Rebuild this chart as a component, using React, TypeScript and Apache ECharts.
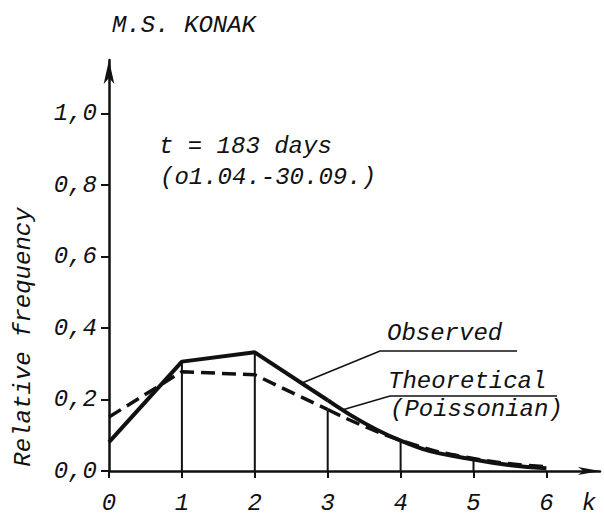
import React, { useEffect, useRef } from "react";
import * as echarts from "echarts";

// ---- data ----
const kValues = [0, 1, 2, 3, 4, 5, 6];
const observed = [0.081, 0.306, 0.332, 0.198, 0.085, 0.032, 0.008];
const theoretical = [0.151, 0.278, 0.269, 0.172, 0.086, 0.035, 0.012];
const stemK = [1, 2, 3, 4, 5];
const stemTops = [0.306, 0.332, 0.17, 0.085, 0.032];
const yTicks = [0, 0.2, 0.4, 0.6, 0.8, 1.0];
const xTicks = [0, 1, 2, 3, 4, 5, 6];

const titleText = "M.S. KONAK";
const periodLines = ["t = 183 days", "(o1.04.-30.09.)"];
const yName = "Relative frequency";
const xName = "k";
const obsLabel = "Observed";
const theoLabels = ["Theoretical", "(Poissonian)"];

const INK = "#111";
const FAMILY = '"Liberation Mono", "DejaVu Sans Mono", monospace';
const FONT = 'italic 24px "Liberation Mono", "DejaVu Sans Mono", monospace';

const pairs = (from: number, to: number, vals: number[]) =>
  kValues.slice(from, to + 1).map((k, i) => [k, vals[from + i]]);

export default function App() {
  const ref = useRef<HTMLDivElement>(null);

  useEffect(() => {
    if (!ref.current) return;
    const chart = echarts.init(ref.current, null, { renderer: "svg" });

    const txt = (text: string, x: number, y: number, extra: any = {}) => ({
      type: "text",
      x,
      y,
      ...extra,
      style: {
        text,
        font: FONT,
        fill: INK,
        textAlign: "left",
        textVerticalAlign: "middle",
        ...(extra.style || {}),
      },
    });

    chart.setOption({
      animation: false,
      backgroundColor: "#ffffff",
      grid: { left: 109, top: 60, right: 4, bottom: 43, containLabel: false },
      xAxis: {
        type: "value",
        min: 0,
        max: 6.735,
        splitLine: { show: false },
        axisLine: {
          show: true,
          onZero: false,
          lineStyle: { color: INK, width: 2.5 },
          symbol: ["none", "arrow"],
          symbolSize: [6, 22],
        },
        axisTick: {
          show: true,
          length: 7,
          inside: false,
          customValues: xTicks,
          lineStyle: { color: INK, width: 2 },
        },
        axisLabel: {
          show: true,
          customValues: xTicks,
          margin: 20,
          color: INK,
          fontFamily: FAMILY,
          fontStyle: "italic",
          fontSize: 24,
          formatter: (v: number) => String(Math.round(v)),
        },
      },
      yAxis: {
        type: "value",
        min: 0,
        max: 1.15,
        splitLine: { show: false },
        axisLine: {
          show: true,
          onZero: false,
          lineStyle: { color: INK, width: 2.5 },
          symbol: ["none", "arrow"],
          symbolSize: [8, 24],
        },
        axisTick: {
          show: true,
          length: 8,
          inside: false,
          customValues: yTicks,
          lineStyle: { color: INK, width: 2 },
        },
        axisLabel: {
          show: true,
          customValues: yTicks,
          margin: 12,
          color: INK,
          fontFamily: FAMILY,
          fontStyle: "italic",
          fontSize: 24,
          formatter: (v: number) => v.toFixed(1).replace(".", ","),
        },
      },
      series: [
        {
          name: "stems",
          type: "bar",
          data: stemK.map((k, i) => [k, stemTops[i]]),
          barWidth: 2,
          itemStyle: { color: INK },
          silent: true,
          z: 1,
        },
        {
          name: "Theoretical",
          type: "line",
          data: pairs(0, 3, theoretical),
          showSymbol: false,
          symbol: "none",
          lineStyle: { color: INK, width: 3.5, type: [14, 7] },
          z: 3,
        },
        {
          name: "Theoretical tail",
          type: "line",
          data: pairs(3, 6, theoretical),
          smooth: 0.5,
          showSymbol: false,
          symbol: "none",
          lineStyle: { color: INK, width: 3.5, type: [14, 7] },
          z: 3,
        },
        {
          name: "Observed",
          type: "line",
          data: pairs(0, 3, observed),
          showSymbol: false,
          symbol: "none",
          lineStyle: { color: INK, width: 4 },
          z: 4,
        },
        {
          name: "Observed tail",
          type: "line",
          data: pairs(3, 6, observed),
          smooth: 0.5,
          showSymbol: false,
          symbol: "none",
          lineStyle: { color: INK, width: 4 },
          z: 4,
        },
      ],
      graphic: [
        txt(titleText, 112, 25),
        txt(periodLines[0], 159, 146),
        txt(periodLines[1], 160, 177),
        txt(obsLabel, 387, 333),
        txt(theoLabels[0], 388, 381),
        txt(theoLabels[1], 390, 409),
        txt(xName, 589, 503, { style: { textAlign: "center" } }),
        txt(yName, 23, 337, {
          rotation: Math.PI / 2,
          style: { textAlign: "center" },
        }),
        {
          type: "polyline",
          shape: { points: [[302, 383], [380, 351], [517, 351]] },
          style: { stroke: INK, lineWidth: 1.6, fill: null },
          silent: true,
        },
        {
          type: "polyline",
          shape: { points: [[342, 410], [390, 396], [557, 396]] },
          style: { stroke: INK, lineWidth: 1.6, fill: null },
          silent: true,
        },
      ],
    });

    return () => chart.dispose();
  }, []);

  return (
    <div
      ref={ref}
      style={{ position: "fixed", left: 0, top: 0, width: 604, height: 515, background: "#fff" }}
    />
  );
}
